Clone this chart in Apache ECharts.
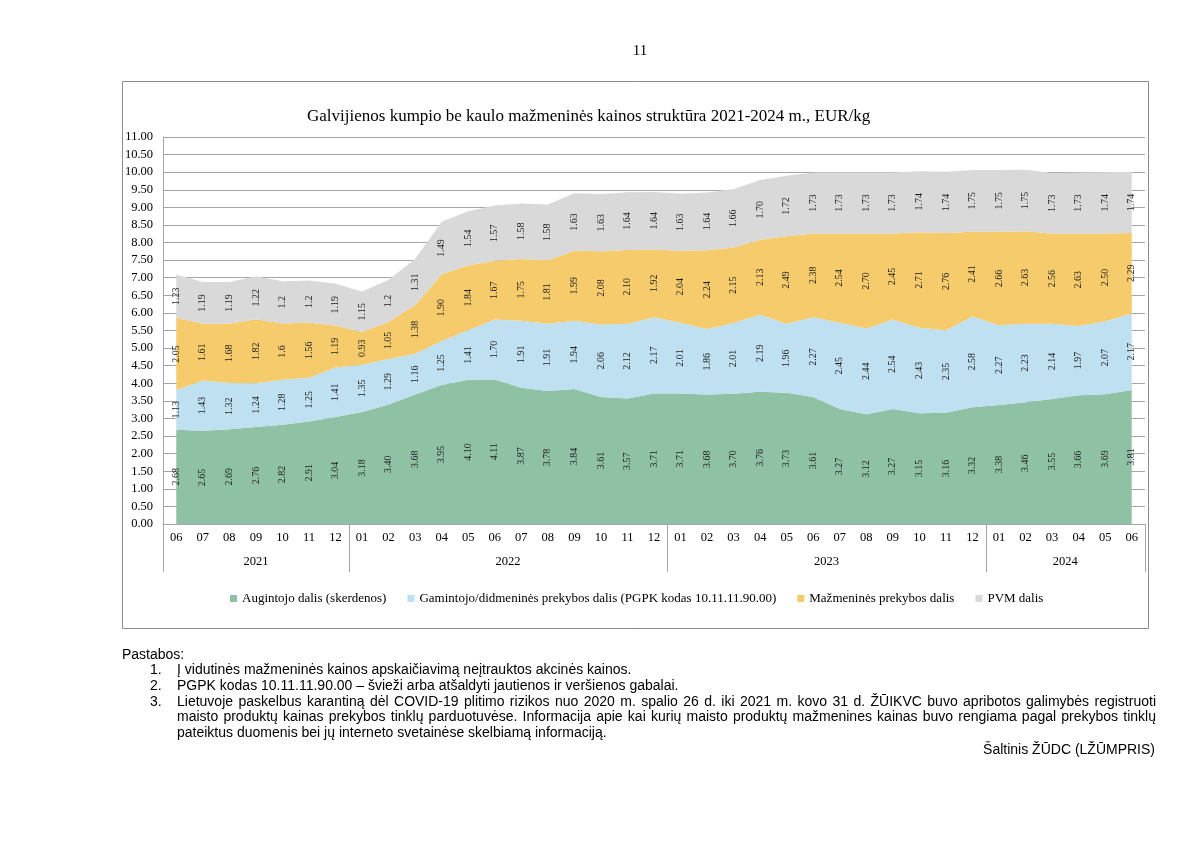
<!DOCTYPE html>
<html><head><meta charset="utf-8">
<script src="https://cdn.jsdelivr.net/npm/echarts@6/dist/echarts.min.js"></script>
<style>
html,body{margin:0;padding:0;background:#fff;}
#wrap{position:relative;width:1200px;height:849px;}
#chart{position:absolute;left:0;top:0;width:1200px;height:849px;}
.t{position:absolute;font-family:"Liberation Sans",Arial,sans-serif;font-size:14px;color:#000;line-height:15.7px;white-space:nowrap;}
.j{text-align:justify;text-align-last:justify;white-space:normal;}
</style></head>
<body><div id="wrap"><div id="chart"></div>
<div class="t" style="left:0;width:1280px;top:43px;text-align:center;font-family:'Liberation Serif','Times New Roman',serif;font-size:15px;">11</div>
<div class="t" style="left:122px;top:647px;">Pastabos:</div>
<div class="t" style="left:150px;top:662px;">1.</div><div class="t" style="left:177px;top:662px;">Į vidutinės mažmeninės kainos apskaičiavimą neįtrauktos akcinės kainos.</div>
<div class="t" style="left:150px;top:678px;">2.</div><div class="t" style="left:177px;top:678px;">PGPK kodas 10.11.11.90.00 – švieži arba atšaldyti jautienos ir veršienos gabalai.</div>
<div class="t" style="left:150px;top:694px;">3.</div>
<div class="t j" style="left:177px;top:694px;width:979px;">Lietuvoje paskelbus karantiną dėl COVID-19 plitimo rizikos nuo 2020 m. spalio 26 d. iki 2021 m. kovo 31 d. ŽŪIKVC buvo apribotos galimybės registruoti</div>
<div class="t j" style="left:177px;top:709px;width:979px;">maisto produktų kainas prekybos tinklų parduotuvėse. Informacija apie kai kurių maisto produktų mažmenines kainas buvo rengiama pagal prekybos tinklų</div>
<div class="t" style="left:177px;top:725px;">pateiktus duomenis bei jų interneto svetainėse skelbiamą informaciją.</div>
<div class="t" style="right:45px;top:742px;">Šaltinis ŽŪDC (LŽŪMPRIS)</div>
</div>
<script>
const months = ['06','07','08','09','10','11','12',
  '01','02','03','04','05','06','07','08','09','10','11','12',
  '01','02','03','04','05','06','07','08','09','10','11','12',
  '01','02','03','04','05','06'];
const yearOfCat = ['2021','2021','2021','2021','2021','2021','2021',
  '2022','2022','2022','2022','2022','2022','2022','2022','2022','2022','2022','2022',
  '2023','2023','2023','2023','2023','2023','2023','2023','2023','2023','2023','2023',
  '2024','2024','2024','2024','2024','2024'];
const yearLabels = ['2021','2022','2023','2024'];
const seriesNames = ['Augintojo dalis (skerdenos)',
  'Gamintojo/didmeninės prekybos dalis (PGPK kodas 10.11.11.90.00)',
  'Mažmeninės prekybos dalis','PVM dalis'];
const augintojo = ['2.68','2.65','2.69','2.76','2.82','2.91','3.04',
  '3.18','3.40','3.68','3.95','4.10','4.11','3.87','3.78','3.84','3.61','3.57','3.71',
  '3.71','3.68','3.70','3.76','3.73','3.61','3.27','3.12','3.27','3.15','3.16','3.32',
  '3.38','3.46','3.55','3.66','3.69','3.81'];
const gamintojo = ['1.13','1.43','1.32','1.24','1.28','1.25','1.41',
  '1.35','1.29','1.16','1.25','1.41','1.70','1.91','1.91','1.94','2.06','2.12','2.17',
  '2.01','1.86','2.01','2.19','1.96','2.27','2.45','2.44','2.54','2.43','2.35','2.58',
  '2.27','2.23','2.14','1.97','2.07','2.17'];
const mazmenine = ['2.05','1.61','1.68','1.82','1.6','1.56','1.19',
  '0.93','1.05','1.38','1.90','1.84','1.67','1.75','1.81','1.99','2.08','2.10','1.92',
  '2.04','2.24','2.15','2.13','2.49','2.38','2.54','2.70','2.45','2.71','2.76','2.41',
  '2.66','2.63','2.56','2.63','2.50','2.29'];
const pvm = ['1.23','1.19','1.19','1.22','1.2','1.2','1.19',
  '1.15','1.2','1.31','1.49','1.54','1.57','1.58','1.58','1.63','1.63','1.64','1.64',
  '1.63','1.64','1.66','1.70','1.72','1.73','1.73','1.73','1.73','1.74','1.74','1.75',
  '1.75','1.75','1.73','1.73','1.74','1.74'];
const values = [augintojo, gamintojo, mazmenine, pvm];
const colors = ['#8FC2A5','#BEE0F0','#F6CB6B','#D9D9D9'];

const serif = "'Liberation Serif','Times New Roman',serif";
const gridCol = '#A6A6A6';

function yearMid(y){
  const idx = yearOfCat.map((v,i)=>v===y?i:-1).filter(i=>i>=0);
  return (idx[0]+idx[idx.length-1])/2;
}
const yearPos = {};
yearLabels.forEach(y=>{ yearPos[y] = yearMid(y); });

const areaSeries = seriesNames.map((n,k)=>({
  name:n, type:'line', stack:'area', data:values[k],
  symbol:'none', lineStyle:{width:0}, areaStyle:{color:colors[k],opacity:1},
  itemStyle:{color:colors[k]}, silent:true, z:2
}));
const labelSeries = seriesNames.map((n,k)=>({
  name:'lbl'+k, type:'bar', stack:'lbl', data:values[k], barWidth:'100%',
  itemStyle:{color:'rgba(0,0,0,0)'}, silent:true, z:5,
  label:{show:true, position:'inside', rotate:90, fontFamily:serif, fontSize:10, color:'#222',
    formatter:p=>p.data}
}));

const chart = echarts.init(document.getElementById('chart'), null, {renderer:'canvas'});
chart.setOption({
  animation:false,
  color:colors,
  title:{text:'Galvijienos kumpio be kaulo mažmeninės kainos struktūra 2021-2024 m., EUR/kg',
    left:302, top:103, textStyle:{fontFamily:serif, fontSize:17, fontWeight:'normal', color:'#000'}},
  legend:{data:seriesNames, left:225, top:587, itemWidth:7, itemHeight:7, itemGap:21, icon:'rect',
    textStyle:{fontFamily:serif, fontSize:13, color:'#000'}},
  graphic:[{type:'rect', shape:{x:122.5,y:81.5,width:1026,height:547}, style:{fill:'none',stroke:'#8C8C8C',lineWidth:1}, z:-10}],
  grid:{left:163, right:55, top:137, bottom:325},
  xAxis:[
    {type:'category', data:months, boundaryGap:true, position:'bottom',
      axisLine:{show:true, lineStyle:{color:gridCol}}, axisTick:{show:false},
      axisLabel:{interval:0, margin:7, fontFamily:serif, fontSize:12.5, color:'#000'}},
    {type:'category', data:months, boundaryGap:true, position:'bottom', offset:0,
      axisLine:{show:false},
      axisTick:{show:true, length:48, lineStyle:{color:gridCol}, interval:(i)=> i===0 || yearOfCat[i]!==yearOfCat[i-1]},
      axisLabel:{interval:0, margin:31, fontFamily:serif, fontSize:12.5, color:'#000',
        formatter:(v,i)=>{
          for (const y of yearLabels){
            const m = yearPos[y];
            if (Math.floor(m)===i) return (m!==i) ? '{s|'+y+'}' : y;
          }
          return '';
        },
        rich:{s:{padding:[0,0,0,26.5], fontFamily:serif, fontSize:12.5, color:'#000'}}}}
  ],
  yAxis:{type:'value', min:0, max:11, interval:0.5,
    axisLine:{show:true, lineStyle:{color:gridCol}}, axisTick:{show:false},
    splitLine:{lineStyle:{color:gridCol, width:1}},
    axisLabel:{formatter:v=>v.toFixed(2), margin:10, fontFamily:serif, fontSize:12.5, color:'#000'}},
  series: areaSeries.concat(labelSeries)
});
</script></body></html>
